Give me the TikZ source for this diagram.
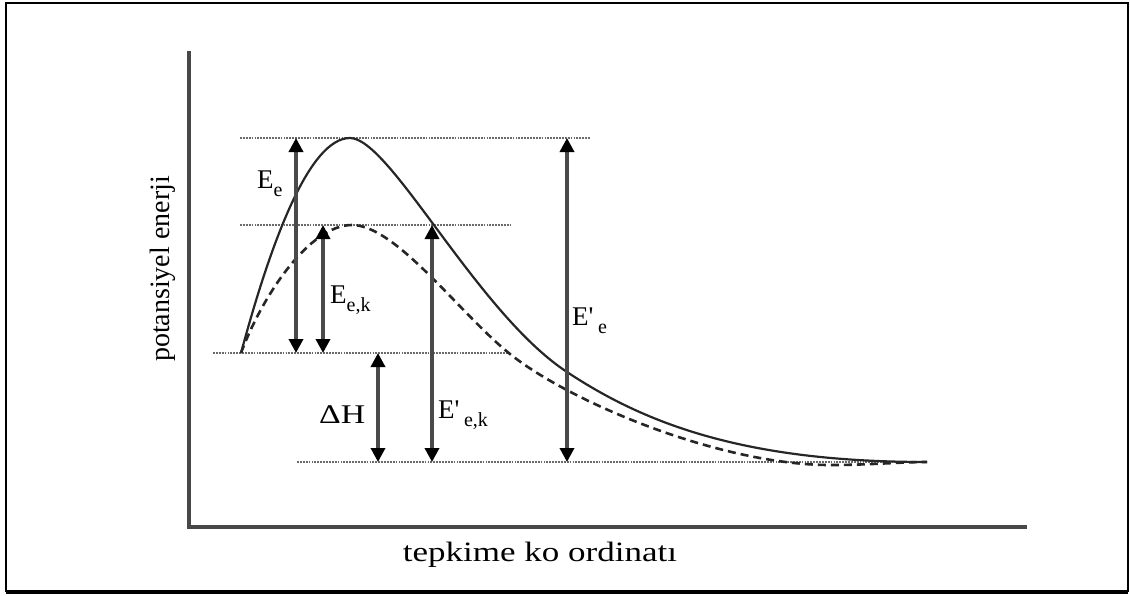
\documentclass[tikz,border=0pt]{standalone}
\usepackage{fontspec}
\setmainfont{Liberation Serif}
\usetikzlibrary{arrows.meta}
\definecolor{axisgray}{HTML}{484848}
\definecolor{arrowgray}{HTML}{4A4A4A}
\definecolor{curvegray}{HTML}{262626}
\definecolor{levelgray}{HTML}{6A6A6A}
\newcommand\lowsub[1]{\raisebox{-0.32em}{\fontsize{20}{20}\selectfont #1}}
\begin{document}
\begin{tikzpicture}[x=1pt,y=-1pt,
  frameline/.style={draw=black,line width=2pt},
  axisline/.style={draw=axisgray,line width=3.2pt},
  levelline/.style={draw=levelgray,line width=2pt,dash pattern=on 1.8pt off 1.1pt},
  energyarrow/.style={draw=arrowgray,line width=3.4pt,
     {Triangle[width=14pt,length=14pt,black]}-{Triangle[width=14pt,length=14pt,black]}},
  barrier/.style={draw=curvegray,line width=2.2pt},
  catalysed/.style={draw=curvegray,line width=2.6pt,dash pattern=on 8pt off 5pt},
  lbl/.style={font=\fontsize{27}{27}\selectfont,inner sep=0pt,anchor=base west},
  axislabel/.style={font=\fontsize{28}{28}\selectfont,inner sep=0pt}
]
\useasboundingbox (0,0) rectangle (1130,595);
% frame
\draw[frameline] (6,3) rectangle (1128,591);
\draw[draw=black,line width=4pt] (6,592) -- (1128,592);

% axes
\coordinate (ytop) at (189,51);
\coordinate (origin) at (189,527);
\coordinate (xend) at (1027,527);
\draw[axisline] (ytop) -- (origin) -- (xend);
\node[axislabel,rotate=90] (ylab) at (163,269) {potansiyel enerji};
\node[axislabel] (xlab) at (540,555) {\scalebox{1.25}[1]{tepkime ko ordinatı}};

% energy levels
\coordinate (topL) at (240,138);  \coordinate (topR) at (590,138);
\coordinate (midL) at (240,225);  \coordinate (midR) at (510,225);
\coordinate (reaL) at (213,353);  \coordinate (reaR) at (510,353);
\coordinate (proL) at (297,462);  \coordinate (proR) at (927,462);
\draw[levelline] (topL) -- (topR);
\draw[levelline] (midL) -- (midR);
\draw[levelline] (reaL) -- (reaR);
\draw[levelline] (proL) -- (proR);

% curves
\coordinate (start) at (241,353);
\coordinate (peak) at (350,138);
\coordinate (cross) at (567,372);
\coordinate (fin) at (927,462);
\draw[barrier] (start) .. controls (272,238) and (310,138) .. (peak)
  .. controls (390,138) and (477,313) .. (cross)
  .. controls (647,425) and (747,462) .. (fin);
\coordinate (cpeak) at (352,225);
\coordinate (cmid) at (510,354);
\coordinate (cdip) at (830,465);
\draw[catalysed] (start) .. controls (263,294) and (310,225) .. (cpeak)
  .. controls (396,225) and (460,314) .. (cmid)
  .. controls (570,402) and (720,465) .. (cdip)
  .. controls (870,465) and (900,462) .. (fin);

% arrows
\coordinate (EeT) at (296,138);  \coordinate (EeB) at (296,353);
\coordinate (EekT) at (323,225); \coordinate (EekB) at (323,353);
\coordinate (dHT) at (378,353);  \coordinate (dHB) at (378,462);
\coordinate (EpkT) at (432,225); \coordinate (EpkB) at (432,462);
\coordinate (EpT) at (567,138);  \coordinate (EpB) at (567,462);
\draw[energyarrow] (EeT) -- (EeB);
\draw[energyarrow] (EekT) -- (EekB);
\draw[energyarrow] (dHT) -- (dHB);
\draw[energyarrow] (EpkT) -- (EpkB);
\draw[energyarrow] (EpT) -- (EpB);

% labels
\node[lbl] (lEe) at (257,188) {E\lowsub{e}};
\node[lbl] (lEek) at (330,303) {E\lowsub{e,k}};
\node[lbl] (ldH) at (319,423) {\scalebox{1.25}[1]{ΔH}};
\node[lbl] (lEpk) at (438,418) {E\textquotesingle\,\lowsub{e,k}};
\node[lbl] (lEp) at (572,325) {E\textquotesingle\,\lowsub{e}};
\end{tikzpicture}
\end{document}
